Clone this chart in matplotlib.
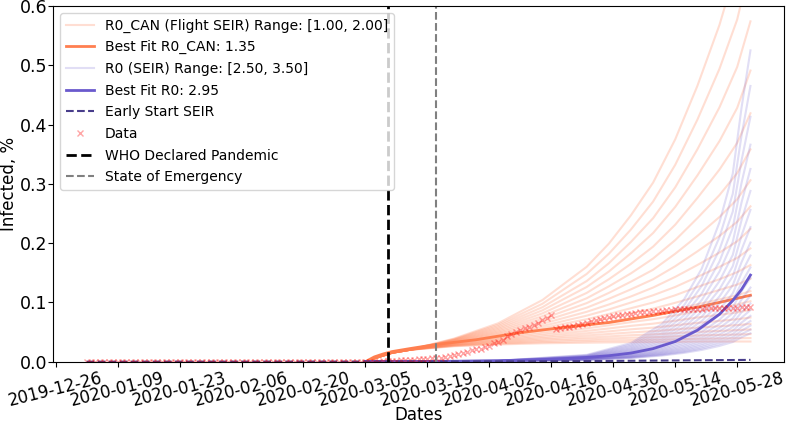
"""
Flight SEIR vs SEIR fits for Canada - infected % over time,
with the R0 ranges, best fits, early-start run and reported data.
"""

# %%
import pandas as pd
import matplotlib
matplotlib.use("Agg")
import matplotlib.pyplot as plt
import matplotlib.dates as mdates

# %%
# ---------------------------------------------------------------------------
# Data (infected in %)
# ---------------------------------------------------------------------------
DATA_START = "2020-01-02"
DATA_VALUES = [
    0.0, 0.0, 0.0, 0.0, 0.0, 0.0, 0.0, 0.0, 0.0, 0.0, 0.0, 0.0, 0.0, 0.0, 0.0, 0.0, 0.0, 0.0, 0.0, 0.0,
    0.0, 0.0, 0.0, 0.0, 0.0, 0.0, 0.0, 0.0, 0.0, 0.0, 0.0, 0.0, 0.0, 0.0, 0.0, 0.0, 0.0, 0.0, 0.0, 0.0,
    0.0, 0.0, 0.0, 0.0, 0.0, 0.0, 0.0, 0.0, 0.0, 0.0, 0.0, 0.0, 0.0, 0.0, 0.0, 0.0, 0.0, 0.0, 0.0, 0.0,
    0.0, 0.0, 0.0, 0.0, 0.0, 0.0, 0.0,
    0.0005, 0.001, 0.0012, 0.0015, 0.002, 0.0025, 0.003, 0.0035, 0.004, 0.0045, 0.005, 0.0055,
    0.006, 0.007, 0.008, 0.010, 0.011, 0.013, 0.015, 0.017, 0.019, 0.021, 0.022, 0.024, 0.026,
    0.031, 0.034, 0.036,
    0.044, 0.047, 0.050, 0.053, 0.056, 0.059, 0.062, 0.066, 0.070, 0.074, 0.078,
    0.055, 0.056, 0.058, 0.059, 0.060, 0.062, 0.064, 0.066, 0.068, 0.070, 0.072, 0.074, 0.075,
    0.077, 0.078, 0.079, 0.080, 0.081, 0.082, 0.083, 0.084, 0.084, 0.085, 0.086, 0.086, 0.087,
    0.087, 0.088, 0.088, 0.088, 0.089, 0.089, 0.089, 0.089, 0.090, 0.090, 0.090, 0.090, 0.091,
    0.091, 0.091, 0.091, 0.092, 0.092, 0.092,
]

# R0_CAN (Flight SEIR) range 1.00 .. 2.00, one row per R0 value
CAN_DATES = ["2020-03-05", "2020-03-08", "2020-03-11", "2020-03-15", "2020-03-25", "2020-04-04",
             "2020-04-14", "2020-04-24", "2020-04-29", "2020-05-04", "2020-05-09", "2020-05-14",
             "2020-05-19", "2020-05-24", "2020-05-28", "2020-05-31"]
CAN_RANGE = [
    [0.0, 0.008, 0.015, 0.020, 0.0260, 0.0290, 0.0310, 0.0320, 0.0325, 0.0330, 0.0330, 0.0335, 0.0340, 0.0340, 0.0340, 0.0340],
    [0.0, 0.008, 0.015, 0.020, 0.0265, 0.0302, 0.0329, 0.0347, 0.0356, 0.0365, 0.0369, 0.0378, 0.0387, 0.0391, 0.0395, 0.0398],
    [0.0, 0.008, 0.015, 0.020, 0.0271, 0.0314, 0.0350, 0.0376, 0.0390, 0.0404, 0.0412, 0.0426, 0.0442, 0.0451, 0.0458, 0.0465],
    [0.0, 0.008, 0.015, 0.020, 0.0276, 0.0327, 0.0372, 0.0407, 0.0426, 0.0446, 0.0460, 0.0481, 0.0503, 0.0519, 0.0532, 0.0545],
    [0.0, 0.008, 0.015, 0.020, 0.0282, 0.0341, 0.0395, 0.0442, 0.0467, 0.0493, 0.0514, 0.0543, 0.0574, 0.0597, 0.0617, 0.0637],
    [0.0, 0.008, 0.015, 0.020, 0.0287, 0.0355, 0.0419, 0.0479, 0.0511, 0.0546, 0.0574, 0.0613, 0.0654, 0.0687, 0.0716, 0.0745],
    [0.0, 0.008, 0.015, 0.020, 0.0293, 0.0369, 0.0445, 0.0519, 0.0560, 0.0604, 0.0641, 0.0691, 0.0745, 0.0791, 0.0831, 0.0872],
    [0.0, 0.008, 0.015, 0.020, 0.0299, 0.0384, 0.0473, 0.0562, 0.0613, 0.0667, 0.0716, 0.0780, 0.0849, 0.0911, 0.0965, 0.102],
    [0.0, 0.008, 0.015, 0.020, 0.0305, 0.0400, 0.0503, 0.0609, 0.0671, 0.0738, 0.0800, 0.0880, 0.0968, 0.105, 0.112, 0.119],
    [0.0, 0.008, 0.015, 0.020, 0.0312, 0.0416, 0.0534, 0.0660, 0.0735, 0.0816, 0.0894, 0.0993, 0.110, 0.121, 0.130, 0.140],
    [0.0, 0.008, 0.015, 0.020, 0.0318, 0.0433, 0.0567, 0.0716, 0.0804, 0.0902, 0.0998, 0.112, 0.126, 0.139, 0.151, 0.163],
    [0.0, 0.008, 0.015, 0.020, 0.0324, 0.0451, 0.0602, 0.0776, 0.0880, 0.0998, 0.112, 0.126, 0.143, 0.160, 0.175, 0.191],
    [0.0, 0.008, 0.015, 0.020, 0.0331, 0.0470, 0.0640, 0.0841, 0.0964, 0.110, 0.125, 0.143, 0.163, 0.184, 0.203, 0.224],
    [0.0, 0.008, 0.015, 0.020, 0.0338, 0.0489, 0.0680, 0.0911, 0.106, 0.122, 0.139, 0.161, 0.186, 0.212, 0.236, 0.262],
    [0.0, 0.008, 0.015, 0.020, 0.0345, 0.0509, 0.0722, 0.0988, 0.116, 0.135, 0.155, 0.182, 0.212, 0.244, 0.274, 0.306],
    [0.0, 0.008, 0.015, 0.020, 0.0351, 0.0530, 0.0767, 0.107, 0.127, 0.149, 0.174, 0.205, 0.242, 0.281, 0.318, 0.358],
    [0.0, 0.008, 0.015, 0.020, 0.0359, 0.0552, 0.0815, 0.116, 0.139, 0.165, 0.194, 0.231, 0.276, 0.324, 0.369, 0.419],
    [0.0, 0.008, 0.015, 0.020, 0.0366, 0.0574, 0.0866, 0.126, 0.152, 0.183, 0.217, 0.261, 0.314, 0.372, 0.428, 0.491],
    [0.0, 0.008, 0.015, 0.020, 0.0373, 0.0598, 0.0919, 0.136, 0.166, 0.202, 0.242, 0.294, 0.358, 0.429, 0.497, 0.574],
    [0.0, 0.008, 0.015, 0.020, 0.0381, 0.0622, 0.0977, 0.148, 0.182, 0.223, 0.270, 0.332, 0.408, 0.494, 0.577, 0.671],
    [0.0, 0.008, 0.015, 0.020, 0.0389, 0.0648, 0.104, 0.160, 0.199, 0.247, 0.302, 0.375, 0.465, 0.568, 0.669, 0.786],
]

# R0 (SEIR) range 2.50 .. 3.50
SEIR_DATES = ["2020-03-05", "2020-04-04", "2020-04-24", "2020-05-04", "2020-05-11", "2020-05-16",
              "2020-05-20", "2020-05-24", "2020-05-27", "2020-05-29", "2020-05-31"]
SEIR_RANGE = [
    [0.0, 0.00068, 0.00294, 0.00613, 0.0103, 0.0148, 0.0198, 0.0266, 0.0332, 0.0413, 0.0479],
    [0.0, 0.00071, 0.00315, 0.00666, 0.0112, 0.0163, 0.0220, 0.0297, 0.0372, 0.0465, 0.0540],
    [0.0, 0.00074, 0.00337, 0.00722, 0.0123, 0.0180, 0.0244, 0.0331, 0.0416, 0.0522, 0.0609],
    [0.0, 0.00077, 0.00361, 0.00784, 0.0135, 0.0199, 0.0271, 0.0369, 0.0466, 0.0587, 0.0686],
    [0.0, 0.00080, 0.00386, 0.00850, 0.0148, 0.0219, 0.0300, 0.0411, 0.0521, 0.0660, 0.0773],
    [0.0, 0.00083, 0.00413, 0.00922, 0.0162, 0.0241, 0.0333, 0.0459, 0.0584, 0.0742, 0.0872],
    [0.0, 0.00087, 0.00443, 0.0100, 0.0177, 0.0266, 0.0369, 0.0512, 0.0653, 0.0834, 0.0982],
    [0.0, 0.00090, 0.00474, 0.0109, 0.0194, 0.0294, 0.0409, 0.0570, 0.0731, 0.0938, 0.111],
    [0.0, 0.00094, 0.00507, 0.0118, 0.0213, 0.0324, 0.0454, 0.0636, 0.0818, 0.105, 0.125],
    [0.0, 0.00098, 0.00543, 0.0128, 0.0233, 0.0357, 0.0503, 0.0709, 0.0916, 0.119, 0.141],
    [0.0, 0.00102, 0.00581, 0.0139, 0.0255, 0.0394, 0.0558, 0.0790, 0.103, 0.133, 0.159],
    [0.0, 0.00106, 0.00622, 0.0151, 0.0279, 0.0435, 0.0619, 0.0881, 0.115, 0.150, 0.179],
    [0.0, 0.00111, 0.00666, 0.0163, 0.0306, 0.0479, 0.0686, 0.0983, 0.129, 0.168, 0.201],
    [0.0, 0.00115, 0.00713, 0.0177, 0.0335, 0.0529, 0.0761, 0.110, 0.144, 0.189, 0.227],
    [0.0, 0.00120, 0.00763, 0.0192, 0.0367, 0.0583, 0.0843, 0.122, 0.161, 0.213, 0.256],
    [0.0, 0.00125, 0.00817, 0.0209, 0.0402, 0.0643, 0.0936, 0.136, 0.180, 0.239, 0.288],
    [0.0, 0.00130, 0.00874, 0.0226, 0.0441, 0.0709, 0.104, 0.152, 0.202, 0.269, 0.325],
    [0.0, 0.00136, 0.00935, 0.0246, 0.0483, 0.0782, 0.115, 0.169, 0.226, 0.302, 0.366],
    [0.0, 0.00141, 0.0100, 0.0267, 0.0529, 0.0862, 0.128, 0.189, 0.253, 0.340, 0.413],
    [0.0, 0.00147, 0.0107, 0.0289, 0.0579, 0.0951, 0.141, 0.210, 0.283, 0.382, 0.465],
    [0.0, 0.00153, 0.0115, 0.0314, 0.0634, 0.105, 0.157, 0.235, 0.317, 0.429, 0.525],
]

# Best fits
BEST_CAN_DATES = ["2020-03-05", "2020-03-06", "2020-03-07", "2020-03-09", "2020-03-11",
                  "2020-03-15", "2020-03-21", "2020-03-30", "2020-04-09", "2020-04-19",
                  "2020-04-29", "2020-05-09", "2020-05-19", "2020-05-24", "2020-05-31"]
BEST_CAN = [0.0, 0.004, 0.008, 0.013, 0.017, 0.022, 0.029, 0.037, 0.049, 0.058,
            0.066, 0.078, 0.092, 0.100, 0.112]

BEST_SEIR_DATES = ["2020-03-05", "2020-03-15", "2020-03-25", "2020-04-04", "2020-04-14",
                   "2020-04-19", "2020-04-24", "2020-04-29", "2020-05-04", "2020-05-09",
                   "2020-05-14", "2020-05-19", "2020-05-24", "2020-05-27", "2020-05-29",
                   "2020-05-31"]
BEST_SEIR = [0.0, 0.0003, 0.0007, 0.0016, 0.0035, 0.0052, 0.0072, 0.010, 0.0145, 0.022,
             0.034, 0.053, 0.080, 0.103, 0.122, 0.146]

EARLY_DATES = ["2020-01-02", "2020-03-05", "2020-04-04", "2020-04-24", "2020-05-09", "2020-05-31"]
EARLY_SEIR = [0.0, 0.0002, 0.0005, 0.001, 0.0018, 0.003]

WHO_DATE = "2020-03-10"
EMERGENCY_DATE = "2020-03-21"

TICK_START = "2019-12-26"
TICK_END = "2020-05-28"

# %%
# ---------------------------------------------------------------------------
# Plot
# ---------------------------------------------------------------------------
fig, ax = plt.subplots(figsize=(7.86, 4.24), dpi=100)
fig.subplots_adjust(left=0.068, right=0.997, top=0.986, bottom=0.147)

can_x = pd.to_datetime(CAN_DATES)
for i, row in enumerate(CAN_RANGE):
    ax.plot(can_x, row, color="coral", alpha=0.25, lw=1.5,
            label="R0_CAN (Flight SEIR) Range: [1.00, 2.00]" if i == 0 else None)

ax.plot(pd.to_datetime(BEST_CAN_DATES), BEST_CAN, color="coral", lw=2,
        label="Best Fit R0_CAN: 1.35")

seir_x = pd.to_datetime(SEIR_DATES)
for i, row in enumerate(SEIR_RANGE):
    ax.plot(seir_x, row, color="slateblue", alpha=0.2, lw=1.5,
            label="R0 (SEIR) Range: [2.50, 3.50]" if i == 0 else None)

ax.plot(pd.to_datetime(BEST_SEIR_DATES), BEST_SEIR, color="slateblue", lw=2,
        label="Best Fit R0: 2.95")

ax.plot(pd.to_datetime(EARLY_DATES), EARLY_SEIR, color="darkslateblue", lw=1.5,
        linestyle="--", label="Early Start SEIR")

data_x = pd.date_range(DATA_START, periods=len(DATA_VALUES), freq="D")
ax.plot(data_x, DATA_VALUES, "x", color="red", alpha=0.35, markersize=4, label="Data")

ax.axvline(pd.Timestamp(WHO_DATE), color="black", linestyle="--", lw=2,
           label="WHO Declared Pandemic")
ax.axvline(pd.Timestamp(EMERGENCY_DATE), color="grey", linestyle="--", lw=1.5,
           label="State of Emergency")

ax.set_ylim(0, 0.6)
ax.set_xticks(pd.date_range(TICK_START, TICK_END, freq="14D"))
ax.xaxis.set_major_formatter(mdates.DateFormatter("%Y-%m-%d"))
ax.tick_params(axis="x", labelsize=12, rotation=14, pad=2)
ax.tick_params(axis="y", labelsize=12.5, pad=1)
ax.set_xlabel("Dates", fontsize=12, labelpad=-3)
ax.set_ylabel("Infected, %", fontsize=12, labelpad=1)
ax.legend(loc="upper left", fontsize=10, labelspacing=0.55)

plt.savefig("out.png", dpi=100)
